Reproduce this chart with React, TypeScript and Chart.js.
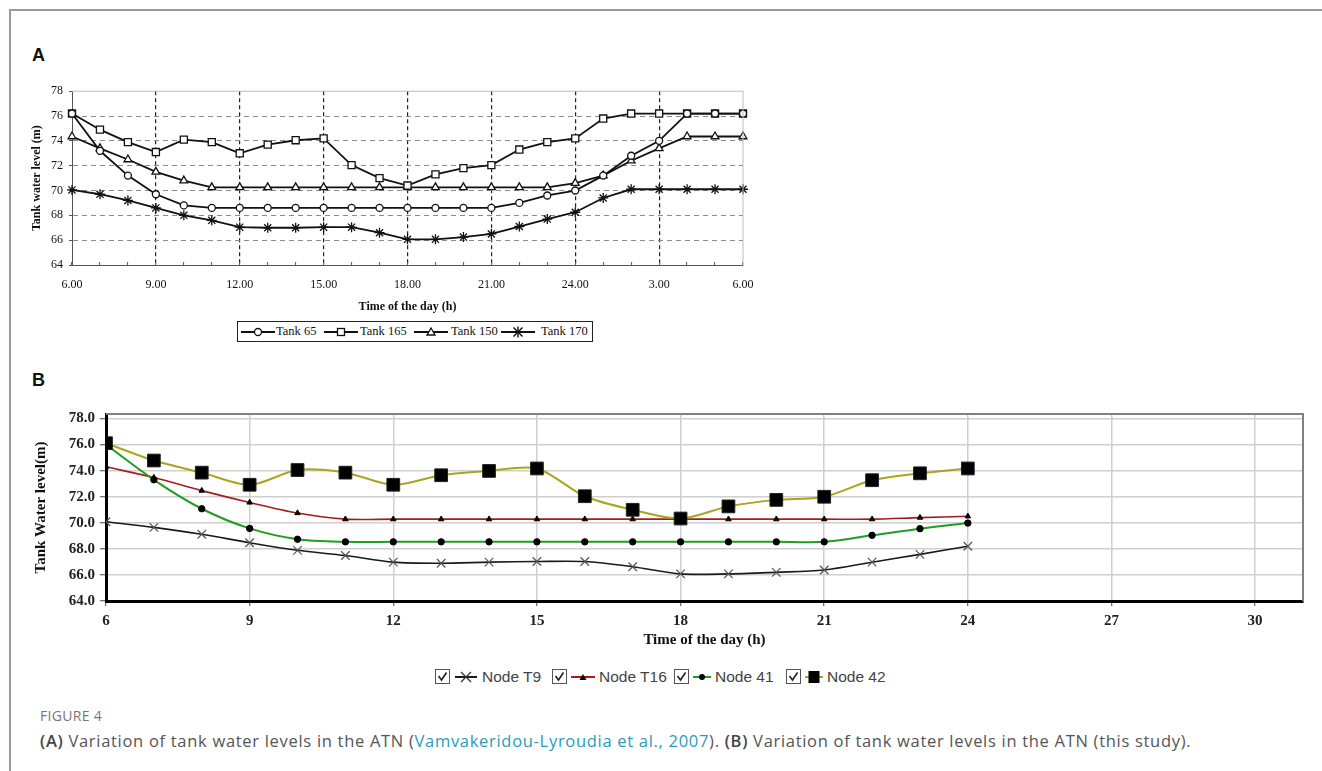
import React, { useEffect, useRef } from 'react';
import { Chart, registerables } from 'chart.js';
Chart.register(...registerables);

// ---------- Panel A data (Vamvakeridou-Lyroudia et al., 2007) ----------
const hoursA = [6, 7, 8, 9, 10, 11, 12, 13, 14, 15, 16, 17, 18, 19, 20, 21, 22, 23, 24, 25, 26, 27, 28, 29, 30];
const tank65 = [76.2, 73.2, 71.2, 69.7, 68.8, 68.6, 68.6, 68.6, 68.6, 68.6, 68.6, 68.6, 68.6, 68.6, 68.6, 68.6, 69.0, 69.6, 70.0, 71.2, 72.8, 74.0, 76.2, 76.2, 76.2];
const tank165 = [76.2, 74.9, 73.9, 73.1, 74.1, 73.9, 73.0, 73.7, 74.05, 74.2, 72.05, 71.0, 70.4, 71.3, 71.8, 72.05, 73.3, 73.9, 74.2, 75.8, 76.2, 76.2, 76.2, 76.2, 76.2];
const tank150 = [74.35, 73.4, 72.5, 71.5, 70.8, 70.25, 70.25, 70.25, 70.25, 70.25, 70.25, 70.25, 70.25, 70.25, 70.25, 70.25, 70.25, 70.25, 70.6, 71.2, 72.4, 73.4, 74.35, 74.35, 74.35];
const tank170 = [70.05, 69.7, 69.2, 68.6, 68.0, 67.6, 67.05, 67.0, 67.0, 67.05, 67.05, 66.6, 66.07, 66.07, 66.25, 66.5, 67.1, 67.7, 68.25, 69.4, 70.1, 70.1, 70.1, 70.1, 70.1];
const legendA = ['Tank 65', 'Tank 165', 'Tank 150', 'Tank 170'];

// ---------- Panel B data (this study) ----------
const hoursB = [6, 7, 8, 9, 10, 11, 12, 13, 14, 15, 16, 17, 18, 19, 20, 21, 22, 23, 24];
const nodeT9 = [70.08, 69.65, 69.12, 68.47, 67.89, 67.49, 66.98, 66.9, 66.98, 67.03, 67.03, 66.63, 66.08, 66.08, 66.2, 66.38, 66.98, 67.58, 68.2];
const nodeT16 = [74.3, 73.47, 72.47, 71.56, 70.75, 70.28, 70.28, 70.28, 70.28, 70.28, 70.28, 70.28, 70.28, 70.28, 70.28, 70.28, 70.28, 70.4, 70.5];
const node41 = [76.0, 73.3, 71.08, 69.57, 68.74, 68.54, 68.54, 68.54, 68.54, 68.54, 68.54, 68.54, 68.54, 68.54, 68.54, 68.54, 69.04, 69.55, 69.98];
const node42 = [76.11, 74.78, 73.85, 72.92, 74.05, 73.85, 72.92, 73.65, 73.98, 74.17, 72.04, 71.0, 70.33, 71.26, 71.76, 72.0, 73.27, 73.8, 74.17];
const legendB = ['Node T9', 'Node T16', 'Node 41', 'Node 42'];

const SERIF = "'Liberation Serif', 'Times New Roman', serif";
const SANS = "'Liberation Sans', Arial, sans-serif";
const CAP = "'Open Sans', 'Noto Sans', sans-serif";

const pts = (xs: number[], ys: number[]) => xs.map((x, i) => ({ x, y: ys[i] }));
const fmtA = (v: number) => `${v > 24 ? v - 24 : v}.00`;

const frameTR = {
  id: 'frameTR',
  afterDatasetsDraw(chart: any, _a: any, opts: any) {
    const { ctx, chartArea } = chart;
    const { left, top, right, bottom } = chartArea;
    ctx.save();
    ctx.strokeStyle = opts.color;
    ctx.lineWidth = opts.width;
    ctx.beginPath();
    ctx.moveTo(left, top);
    ctx.lineTo(right, top);
    ctx.lineTo(right, bottom);
    ctx.stroke();
    ctx.restore();
  },
};

function cfgA(): any {
  const ds = (label: string, ys: number[], style: string, r: number) => ({
    label,
    data: pts(hoursA, ys),
    borderColor: '#111',
    borderWidth: 1.8,
    pointStyle: style,
    pointRadius: r,
    pointBackgroundColor: '#fff',
    pointBorderColor: '#111',
    pointBorderWidth: 1.3,
    tension: 0,
    clip: false,
  });
  return {
    type: 'line',
    data: {
      datasets: [
        ds(legendA[0], tank65, 'circle', 3.5),
        ds(legendA[1], tank165, 'rect', 5),
        ds(legendA[2], tank150, 'triangle', 4.5),
        ds(legendA[3], tank170, 'star', 5),
      ],
    },
    options: {
      animation: false,
      responsive: false,
      layout: { padding: { top: 11, right: 47, left: 0, bottom: 0 } },
      plugins: {
        legend: { display: false },
        tooltip: { enabled: false },
        frameTR: { color: '#bdbdbd', width: 1 },
      },
      scales: {
        x: {
          type: 'linear',
          min: 6,
          max: 30,
          afterFit: (s: any) => { s.height = 53; },
          ticks: {
            stepSize: 1,
            autoSkip: false,
            maxRotation: 0,
            padding: 16,
            color: '#111',
            font: { family: SERIF, size: 12 },
            callback: (v: number) => (v % 3 === 0 ? fmtA(v) : ''),
          },
          grid: {
            color: (c: any) => {
              const v = c.tick ? c.tick.value : 0;
              return v % 3 === 0 && v > 6 && v < 30 ? '#222' : 'rgba(0,0,0,0)';
            },
            lineWidth: 1.2,
            tickLength: -3,
            tickColor: '#555',
            tickWidth: 1,
          },
          border: { color: '#555', width: 1, dash: [4, 3] },
          title: {
            display: true,
            text: 'Time of the day (h)',
            color: '#111',
            font: { family: SERIF, size: 12, weight: 'bold' },
            padding: { top: 0, bottom: 4 },
          },
        },
        y: {
          min: 64,
          max: 78,
          afterFit: (s: any) => { s.width = 52; },
          ticks: { stepSize: 2, padding: 6, color: '#111', font: { family: SERIF, size: 12 } },
          grid: {
            color: (c: any) => {
              const v = c.tick ? c.tick.value : 0;
              return v > 64 && v < 78 ? '#8a8a8a' : 'rgba(0,0,0,0)';
            },
            lineWidth: 1,
            tickLength: 3,
            tickColor: '#555',
          },
          border: { color: '#555', width: 1, dash: [5, 4] },
          title: {
            display: true,
            text: 'Tank water level (m)',
            color: '#111',
            font: { family: SERIF, size: 12, weight: 'bold' },
            padding: { top: 9.5, bottom: 0 },
          },
        },
      },
    },
    plugins: [frameTR],
  };
}

function cfgB(): any {
  return {
    type: 'line',
    data: {
      datasets: [
        {
          label: legendB[0], data: pts(hoursB, nodeT9), borderColor: '#1a1a1a', borderWidth: 1.6,
          pointStyle: 'crossRot', pointRadius: 6, pointBorderColor: '#555', pointBorderWidth: 1.2,
          tension: 0.3, order: 3,
        },
        {
          label: legendB[1], data: pts(hoursB, nodeT16), borderColor: '#a51c1c', borderWidth: 1.6,
          pointStyle: 'triangle', pointRadius: 3.2, pointBackgroundColor: '#000', pointBorderColor: '#000', pointBorderWidth: 1,
          tension: 0.3, order: 2,
        },
        {
          label: legendB[2], data: pts(hoursB, node41), borderColor: '#1f9e1f', borderWidth: 2,
          pointStyle: 'circle', pointRadius: 3.2, pointBackgroundColor: '#000', pointBorderColor: '#000', pointBorderWidth: 1,
          tension: 0.3, order: 1,
        },
        {
          label: legendB[3], data: pts(hoursB, node42), borderColor: '#a9a51e', borderWidth: 2,
          pointStyle: 'rect', pointRadius: 9, pointBackgroundColor: '#000', pointBorderColor: '#222', pointBorderWidth: 1,
          tension: 0.3, order: 0,
        },
      ],
    },
    options: {
      animation: false,
      responsive: false,
      layout: { padding: { top: 10, right: 17, left: 0, bottom: 0 } },
      plugins: {
        legend: { display: false },
        tooltip: { enabled: false },
        frameTR: { color: '#808080', width: 2 },
      },
      scales: {
        x: {
          type: 'linear',
          min: 6,
          max: 31,
          afterFit: (s: any) => { s.height = 59; },
          ticks: { stepSize: 3, includeBounds: false, autoSkip: false, maxRotation: 0, padding: 6, color: '#222', font: { family: SERIF, size: 15, weight: 'bold' } },
          grid: { color: '#cfcfcf', lineWidth: 1.5, tickLength: 5, tickColor: '#444', tickWidth: 1 },
          border: { color: '#000', width: 3 },
          title: {
            display: true, text: 'Time of the day (h)', color: '#111',
            font: { family: SERIF, size: 15, weight: 'bold' }, padding: { top: 0, bottom: 10.5 },
          },
        },
        y: {
          min: 64,
          max: 78.35,
          afterFit: (s: any) => { s.width = 86; },
          ticks: { stepSize: 2, includeBounds: false, padding: 5, color: '#222', font: { family: SERIF, size: 15, weight: 'bold' }, callback: (v: number) => v.toFixed(1) },
          grid: { color: '#cfcfcf', lineWidth: 1.5, tickLength: 6, tickColor: '#444', tickWidth: 1 },
          border: { color: '#000', width: 3 },
          title: {
            display: true, text: 'Tank Water level(m)', color: '#111',
            font: { family: SERIF, size: 15, weight: 'bold' }, padding: { top: 12.5, bottom: 0 },
          },
        },
      },
    },
    plugins: [frameTR],
  };
}

const abs = (left: number, top: number, extra: any = {}): React.CSSProperties => ({ position: 'absolute', left, top, ...extra });

function MarkA({ kind }: { kind: number }) {
  const m = [
    <circle cx={17} cy={7} r={3.5} fill="#fff" stroke="#111" strokeWidth={1.3} />,
    <rect x={13.5} y={3.5} width={7} height={7} fill="#fff" stroke="#111" strokeWidth={1.3} />,
    <polygon points="17,3 21,10 13,10" fill="#fff" stroke="#111" strokeWidth={1.3} />,
    <g stroke="#111" strokeWidth={1.4}>
      <line x1={12.5} y1={2.5} x2={21.5} y2={11.5} />
      <line x1={21.5} y1={2.5} x2={12.5} y2={11.5} />
      <line x1={17} y1={1.5} x2={17} y2={12.5} />
    </g>,
  ][kind];
  return (
    <svg width={34} height={14} style={{ display: 'block' }}>
      <line x1={0} y1={7} x2={34} y2={7} stroke="#111" strokeWidth={2} />
      {m}
    </svg>
  );
}

function CheckBox() {
  return (
    <svg width={15} height={15} style={{ display: 'block' }}>
      <rect x={0.5} y={0.5} width={14} height={14} fill="#fff" stroke="#555" strokeWidth={1} />
      <polyline points="3.5,7 6.5,11 11.5,3.5" fill="none" stroke="#222" strokeWidth={1.6} />
    </svg>
  );
}

function MarkB({ kind, w }: { kind: number; w: number }) {
  const c = w / 2;
  const color = ['#1a1a1a', '#a51c1c', '#1f9e1f', '#a9a51e'][kind];
  const m = [
    <g stroke="#333" strokeWidth={1.2}>
      <line x1={c - 5} y1={2} x2={c + 5} y2={12} />
      <line x1={c + 5} y1={2} x2={c - 5} y2={12} />
    </g>,
    <polygon points={`${c},4 ${c + 3.5},10 ${c - 3.5},10`} fill="#000" />,
    <circle cx={c} cy={7} r={3} fill="#000" />,
    <rect x={c - 5.5} y={1} width={11} height={12} fill="#000" />,
  ][kind];
  return (
    <svg width={w} height={14} style={{ display: 'block' }}>
      <line x1={0} y1={7} x2={w} y2={7} stroke={color} strokeWidth={2} />
      {m}
    </svg>
  );
}

export default function App() {
  const refA = useRef<HTMLCanvasElement>(null);
  const refB = useRef<HTMLCanvasElement>(null);
  useEffect(() => {
    const a = new Chart(refA.current as HTMLCanvasElement, cfgA());
    const b = new Chart(refB.current as HTMLCanvasElement, cfgB());
    return () => {
      a.destroy();
      b.destroy();
    };
  }, []);

  const legATxt = [38, 122, 213, 303];
  const legASeg = [3, 86, 176, 263];
  const legB = [
    { cb: 435, mk: 455, w: 22, tx: 482 },
    { cb: 552, mk: 571, w: 24, tx: 599 },
    { cb: 674, mk: 693, w: 18, tx: 715 },
    { cb: 786, mk: 805, w: 18, tx: 827 },
  ];

  return (
    <div style={{ position: 'absolute', left: 0, top: 0, width: 1322, height: 771, overflow: 'hidden', background: '#fff' }}>
      <div style={abs(9, 9, { width: 1313, height: 762, boxSizing: 'border-box', borderTop: '2px solid #9a9a9a', borderLeft: '2px solid #9a9a9a' })} />
      <div style={abs(32, 45, { font: `bold 18px ${SANS}`, lineHeight: '20px', color: '#111' })}>A</div>
      <canvas ref={refA} width={770} height={240} style={abs(20, 78, { width: 770, height: 240 })} />
      <div style={abs(237, 321, { width: 356, height: 21, boxSizing: 'border-box', border: '1px solid #222' })}>
        {legendA.map((t, i) => (
          <React.Fragment key={t}>
            <div style={abs(legASeg[i], 2.5)}><MarkA kind={i} /></div>
            <div style={abs(legATxt[i], 0, { font: `12.5px ${SERIF}`, lineHeight: '19px', color: '#111', whiteSpace: 'nowrap' })}>{t}</div>
          </React.Fragment>
        ))}
      </div>

      <div style={abs(32, 370, { font: `bold 18px ${SANS}`, lineHeight: '20px', color: '#111' })}>B</div>
      <canvas ref={refB} width={1300} height={260} style={abs(20, 400, { width: 1300, height: 260 })} />
      {legendB.map((t, i) => (
        <React.Fragment key={t}>
          <div style={abs(legB[i].cb, 669)}><CheckBox /></div>
          <div style={abs(legB[i].mk, 670)}><MarkB kind={i} w={legB[i].w} /></div>
          <div style={abs(legB[i].tx, 667, { font: `15.5px ${SANS}`, lineHeight: '19px', color: '#444', whiteSpace: 'nowrap' })}>{t}</div>
        </React.Fragment>
      ))}

      <div style={abs(40, 708, { font: `14px ${CAP}`, lineHeight: '16px', letterSpacing: '0.3px', color: '#777', whiteSpace: 'nowrap' })}>FIGURE 4</div>
      <div style={abs(40, 731, { font: `16.5px ${CAP}`, lineHeight: '20px', letterSpacing: '0.7px', color: '#555', whiteSpace: 'nowrap' })}>
        <b style={{ fontWeight: 600, color: '#444' }}>(A)</b> Variation of tank water levels in the ATN (
        <span style={{ color: '#2a9db6' }}>Vamvakeridou-Lyroudia et al., 2007</span>). <b style={{ fontWeight: 600, color: '#444' }}>(B)</b> Variation of tank water levels in the ATN (this study).
      </div>
    </div>
  );
}
